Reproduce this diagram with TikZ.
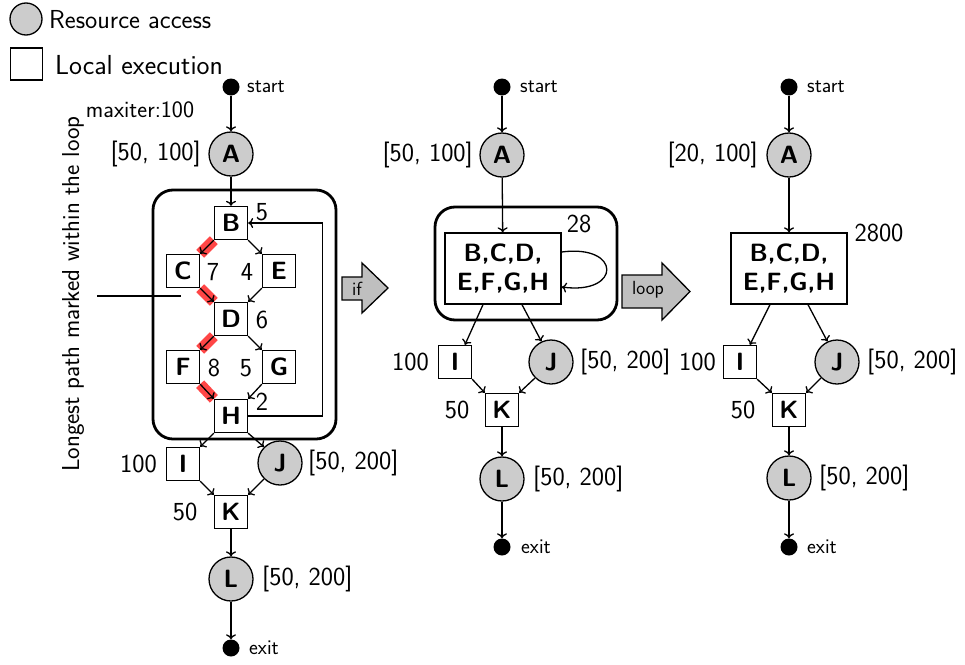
\documentclass[tikz,border=0pt]{standalone}
\usepackage{fontspec}
\renewcommand{\familydefault}{\sfdefault}
\usetikzlibrary{arrows.meta}
\tikzset{
 res/.style={circle,draw,line width=1.3pt,fill=black!20,minimum size=44pt,inner sep=0pt,font=\bfseries\fontsize{25}{25}\selectfont},
 loc/.style={rectangle,draw,line width=1.3pt,fill=white,minimum size=33pt,inner sep=0pt,font=\bfseries\fontsize{25}{25}\selectfont},
 merged/.style={rectangle,draw,line width=1.3pt,fill=white,minimum width=116pt,minimum height=71pt,inner sep=0pt,align=center,font=\bfseries\fontsize{25}{29}\selectfont},
 term/.style={circle,fill=black,minimum size=17pt,inner sep=0pt},
 lbl/.style={inner sep=0pt,font=\fontsize{26}{26}\selectfont},
 sml/.style={inner sep=0pt,font=\fontsize{21}{21}\selectfont},
 edge/.style={-{To[length=5pt,width=10pt]},line width=1.3pt},
 crit/.style={line width=11pt,draw=red!85,opacity=0.85},
 grp/.style={draw,line width=2.8pt,rounded corners=20pt,inner sep=0pt},
 bigarrow/.style={draw,line width=1.3pt,fill=black!25,line join=miter}
}
\begin{document}
\begin{tikzpicture}[x=1pt,y=-1pt]
\useasboundingbox (0,0) rectangle (965,664);

% legend
\node[res,minimum size=32pt] (legR) at (26,19) {};
\node[lbl,anchor=west,font=\fontsize{26}{26}\selectfont] (legRt) at (49,20) {Resource access};
\node[loc,minimum size=32pt] (legL) at (26.5,64) {};
\node[lbl,anchor=west,font=\fontsize{27.5}{27.5}\selectfont] (legLt) at (55,65) {Local execution};

% ================= left graph =================
\node[grp,minimum width=183pt,minimum height=249pt] (g1) at (244.5,314.5) {};
\node[term] (s1) at (231,87) {};
\node[sml,anchor=west] (s1t) at (247,87) {start};
\node[sml,font=\fontsize{23.5}{23.5}\selectfont] (mx) at (140,110) {maxiter:100};
\node[res] (A1) at (231,154) {A};
\node[lbl,anchor=east] (A1t) at (201,154) {[50, 100]};
\node[loc] (B) at (231,223) {B};
\node[loc] (C) at (183,271) {C};
\node[loc] (E) at (279,271) {E};
\node[loc] (D) at (231,319) {D};
\node[loc] (F) at (183,367) {F};
\node[loc] (G) at (279,367) {G};
\node[loc] (H) at (231,416) {H};
\node[lbl] (Bt) at (262,212) {5};
\node[lbl] (Ct) at (213,272) {7};
\node[lbl] (Et) at (247,272) {4};
\node[lbl] (Dt) at (262,320) {6};
\node[lbl] (Ft) at (214,368) {8};
\node[lbl] (Gt) at (246,368) {5};
\node[lbl] (Ht) at (262,402) {2};
\node[loc] (I1) at (183,464) {I};
\node[lbl,anchor=east] (I1t) at (157,464) {100};
\node[res] (J1) at (280,463) {J};
\node[lbl,anchor=west] (J1t) at (308,463) {[50, 200]};
\node[loc] (K1) at (231,512) {K};
\node[lbl] (K1t) at (185,512) {50};
\node[res] (L1) at (231,579) {L};
\node[lbl,anchor=west] (L1t) at (262,579) {[50, 200]};
\node[term] (x1) at (231,648) {};
\node[sml,anchor=west] (x1t) at (249,648) {exit};

% longest path annotation
\node[lbl,rotate=90,font=\fontsize{24.5}{24.5}\selectfont] (lp) at (73,294) {Longest path marked within the loop};
\coordinate (lpa) at (97,296);
\coordinate (lpb) at (181,296);
\draw[line width=1.3pt] (lpa) -- (lpb);

% critical path highlight
\draw[crit] (B.south west) -- (C.north east);
\draw[crit] (C.south east) -- (D.north west);
\draw[crit] (D.south west) -- (F.north east);
\draw[crit] (F.south east) -- (H.north west);

\draw[edge] (s1) -- (A1);
\draw[edge] (A1) -- (B);
\draw[edge] (B.south west) -- (C.north east);
\draw[edge] (B.south east) -- (E.north west);
\draw[edge] (C.south east) -- (D.north west);
\draw[edge] (E.south west) -- (D.north east);
\draw[edge] (D.south west) -- (F.north east);
\draw[edge] (D.south east) -- (G.north west);
\draw[edge] (F.south east) -- (H.north west);
\draw[edge] (G.south west) -- (H.north east);
\draw[edge] (H.east) -- ++(74,0) |- (B.east);
\draw[edge] (H.south west) -- (I1.north east);
\draw[edge] (H.south east) -- (J1.135);
\draw[edge] (I1.south east) -- (K1.north west);
\draw[edge] (J1.225) -- (K1.north east);
\draw[edge] (K1) -- (L1);
\draw[edge] (L1) -- (x1);

% "if" arrow
\draw[bigarrow] (342,277) -- (362,277) -- (362,263) -- (388,288) -- (362,313) -- (362,300) -- (342,300) -- cycle;
\node[sml,font=\fontsize{19}{19}\selectfont] (ift) at (357,289) {if};

% ================= middle graph =================
\node[grp,minimum width=182pt,minimum height=113pt] (g2) at (526,263.5) {};
\node[term] (s2) at (502,87) {};
\node[sml,anchor=west] (s2t) at (520,87) {start};
\node[res] (A2) at (502,155) {A};
\node[lbl,anchor=east] (A2t) at (473,155) {[50, 100]};
\node[merged] (M2) at (503,268.5) {B,C,D,\\E,F,G,H};
\node[lbl] (M2t) at (579,224) {28};
\node[loc] (I2) at (455,362) {I};
\node[lbl,anchor=east] (I2t) at (429,362) {100};
\node[res] (J2) at (551,362) {J};
\node[lbl,anchor=west] (J2t) at (580,362) {[50, 200]};
\node[loc] (K2) at (502,410) {K};
\node[lbl] (K2t) at (457,410) {50};
\node[res] (L2) at (502,479) {L};
\node[lbl,anchor=west] (L2t) at (533,479) {[50, 200]};
\node[term] (x2) at (502,547) {};
\node[sml,anchor=west] (x2t) at (521,547) {exit};

\draw[edge] (s2) -- (A2);
\draw[edge] (A2) -- (M2);
\draw[edge] ([yshift=16.5pt]M2.east) .. controls +(60,-8) and +(60,8) .. ([yshift=-18.5pt]M2.east);
\draw[edge] ([xshift=-20pt]M2.south) -- (I2.60);
\draw[edge] ([xshift=19pt]M2.south) -- (J2.115);
\draw[edge] (I2.south east) -- (K2.north west);
\draw[edge] (J2.225) -- (K2.north east);
\draw[edge] (K2) -- (L2);
\draw[edge] (L2) -- (x2);

% "loop" arrow
\draw[bigarrow] (622,275) -- (662,275) -- (662,263) -- (690,291.5) -- (662,320) -- (662,308) -- (622,308) -- cycle;
\node[sml,font=\fontsize{19}{19}\selectfont] (loopt) at (648,290) {loop};

% ================= right graph =================
\node[term] (s3) at (789,87) {};
\node[sml,anchor=west] (s3t) at (807,87) {start};
\node[res] (A3) at (789,155) {A};
\node[lbl,anchor=east] (A3t) at (758,155) {[20, 100]};
\node[merged] (M3) at (789,268.5) {B,C,D,\\E,F,G,H};
\node[lbl] (M3t) at (879,233) {2800};
\node[loc] (I3) at (740,362) {I};
\node[lbl,anchor=east] (I3t) at (716,362) {100};
\node[res] (J3) at (837,362) {J};
\node[lbl,anchor=west] (J3t) at (867,362) {[50, 200]};
\node[loc] (K3) at (789,410) {K};
\node[lbl] (K3t) at (743,410) {50};
\node[res] (L3) at (789,478) {L};
\node[lbl,anchor=west] (L3t) at (819,478) {[50, 200]};
\node[term] (x3) at (789,547) {};
\node[sml,anchor=west] (x3t) at (807,547) {exit};

\draw[edge] (s3) -- (A3);
\draw[edge] (A3) -- (M3);
\draw[edge] ([xshift=-19pt]M3.south) -- (I3.60);
\draw[edge] ([xshift=19pt]M3.south) -- (J3.115);
\draw[edge] (I3.south east) -- (K3.north west);
\draw[edge] (J3.225) -- (K3.north east);
\draw[edge] (K3) -- (L3);
\draw[edge] (L3) -- (x3);
\end{tikzpicture}
\end{document}
